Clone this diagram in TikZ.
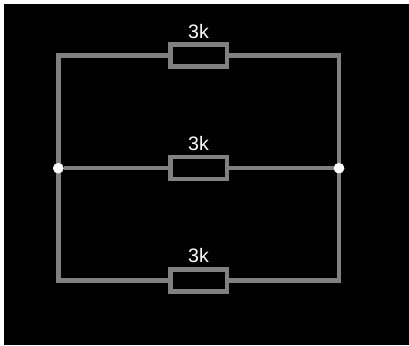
\documentclass[tikz,border=0pt]{standalone}
\usepackage{fontspec}
\setmainfont{Liberation Sans}
\usetikzlibrary{positioning}
\definecolor{wiregray}{RGB}{128,128,128}
\tikzset{
    wire/.style={draw=wiregray, line width = 4.5pt, line join = miter},
    resistor/.style={draw=wiregray, line width = 4.5pt, fill = black, minimum width = 56.5pt, minimum height = 22pt, inner sep = 0pt},
    reslabel/.style={text=white, font=\fontsize{19.5}{22}\selectfont, inner sep = 0pt},
    junction/.style={circle, fill=white, minimum size = 10.5pt, inner sep = 0pt}
}
\begin{document}
\begin{tikzpicture}[x=1pt, y=-1pt]
    \fill[white] (0,0) rectangle (409,345);
    \fill[black] (4,4) rectangle (409,345);
    \useasboundingbox (0,0) rectangle (409,345);

    \node[junction] (L) at (58.3,168.2) {};
    \node[junction] (R) at (339,168.2) {};
    \coordinate (TL) at (58.3,55.7);
    \coordinate (TR) at (339,55.7);
    \coordinate (BL) at (58.3,280.3);
    \coordinate (BR) at (339,280.3);

    \node[resistor] (R1) at (198.5,55.7) {};
    \node[resistor] (R2) at (198.5,168.2) {};
    \node[resistor] (R3) at (198.5,280.3) {};

    \node[reslabel, above = 4pt of R1] (T1) {3k};
    \node[reslabel, above = 4pt of R2] (T2) {3k};
    \node[reslabel, above = 4pt of R3] (T3) {3k};

    \draw[wire] (R1) -- (TL) -- (BL) -- (R3);
    \draw[wire] (R1) -- (TR) -- (BR) -- (R3);
    \draw[wire] (L) -- (R2) -- (R);

    \node[junction] at (L) {};
    \node[junction] at (R) {};
\end{tikzpicture}
\end{document}
